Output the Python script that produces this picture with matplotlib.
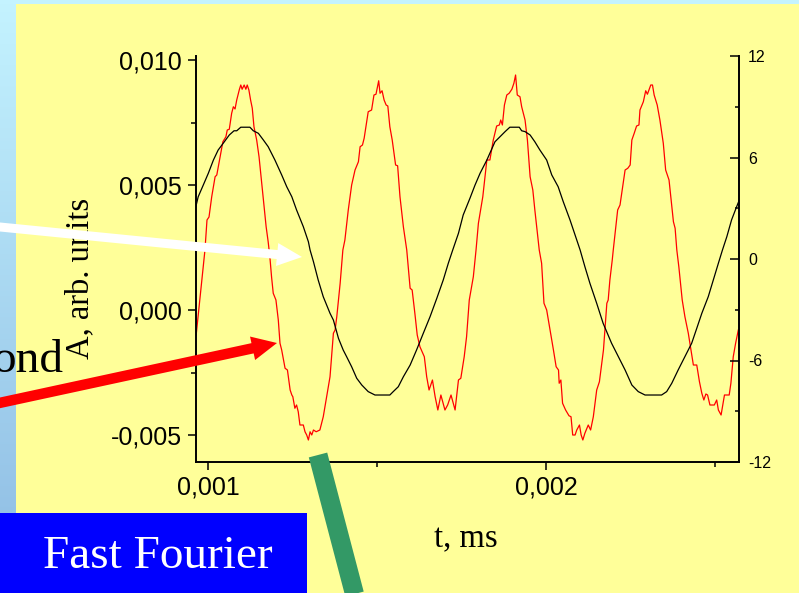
import numpy as np
import matplotlib.pyplot as plt
from matplotlib.ticker import FuncFormatter, MultipleLocator, FixedLocator
from matplotlib.patches import Rectangle, FancyArrow
from matplotlib.colors import LinearSegmentedColormap

plt.rcParams['font.family'] = 'Liberation Sans'
plt.rcParams['axes.unicode_minus'] = False

# red trace: time in microseconds (1 us = 0.001 ms), amplitude in units of 1e-3 (left axis)
red_t = [0.965, 0.991, 0.997, 1.003, 1.011, 1.021, 1.026, 1.036, 1.044, 1.053,
         1.057, 1.063, 1.070, 1.075, 1.080, 1.085, 1.093, 1.097, 1.101, 1.107,
         1.112, 1.116, 1.121, 1.126, 1.131, 1.136, 1.144, 1.151, 1.159, 1.166,
         1.172, 1.178, 1.183, 1.188, 1.193, 1.201, 1.208, 1.213, 1.218, 1.228,
         1.235, 1.243, 1.248, 1.251, 1.257, 1.262, 1.267, 1.272, 1.282, 1.287,
         1.292, 1.297, 1.302, 1.307, 1.312, 1.320, 1.331, 1.341, 1.351, 1.361,
         1.371, 1.376, 1.381, 1.391, 1.399, 1.405, 1.415, 1.425, 1.435, 1.445,
         1.450, 1.457, 1.462, 1.474, 1.484, 1.491, 1.497, 1.505, 1.509, 1.515,
         1.521, 1.527, 1.532, 1.538, 1.545, 1.555, 1.561, 1.568, 1.578, 1.588,
         1.595, 1.598, 1.604, 1.612, 1.619, 1.627, 1.640, 1.647, 1.654, 1.664,
         1.672, 1.680, 1.689, 1.701, 1.709, 1.719, 1.731, 1.741, 1.748, 1.758,
         1.765, 1.773, 1.785, 1.793, 1.800, 1.813, 1.825, 1.834, 1.844, 1.854,
         1.862, 1.866, 1.871, 1.877, 1.884, 1.891, 1.899, 1.905, 1.910, 1.915,
         1.923, 1.928, 1.938, 1.945, 1.953, 1.961, 1.967, 1.980, 1.987, 1.994,
         2.002, 2.012, 2.022, 2.030, 2.037, 2.039, 2.044, 2.049, 2.058, 2.068,
         2.074, 2.079, 2.086, 2.091, 2.099, 2.104, 2.109, 2.115, 2.125, 2.132,
         2.140, 2.150, 2.158, 2.170, 2.180, 2.184, 2.189, 2.196, 2.199, 2.212,
         2.219, 2.224, 2.234, 2.242, 2.249, 2.254, 2.261, 2.268, 2.275, 2.278,
         2.288, 2.295, 2.300, 2.310, 2.315, 2.320, 2.329, 2.337, 2.347, 2.354,
         2.364, 2.377, 2.382, 2.387, 2.393, 2.403, 2.411, 2.421, 2.436, 2.446,
         2.454, 2.461, 2.467, 2.473, 2.478, 2.485, 2.498, 2.505, 2.510, 2.518,
         2.528, 2.542, 2.547, 2.554, 2.561, 2.569]
red_a = [-1.0, 2.4, 3.6, 3.72, 4.53, 5.33, 5.4, 6.13, 6.73, 6.93,
         7.2, 7.23, 7.87, 8.13, 8.04, 8.4, 8.83, 9.0, 8.83, 9.0,
         8.83, 9.0, 8.8, 8.4, 8.07, 7.33, 6.8, 6.13, 5.07, 4.13,
         3.33, 2.73, 2.13, 1.33, 0.67, 0.4, -0.4, -1.33, -1.6, -2.33,
         -2.4, -3.2, -3.4, -3.47, -3.93, -3.8, -4.07, -4.6, -4.6, -4.87,
         -5.0, -5.2, -4.87, -5.0, -4.8, -4.87, -4.8, -4.27, -3.47, -2.67,
         -0.93, -0.8, -0.27, 1.07, 2.4, 2.8, 4.0, 5.0, 5.6, 5.93,
         6.53, 6.6, 6.87, 7.93, 8.0, 8.6, 8.63, 9.17, 8.67, 8.77,
         8.4, 8.2, 8.16, 7.33, 6.8, 5.8, 5.77, 4.53, 3.33, 2.4,
         1.33, 0.87, 0.8, -0.13, -1.0, -1.47, -1.87, -2.67, -3.2, -2.8,
         -3.47, -4.0, -3.4, -4.0, -3.8, -3.4, -4.0, -2.8, -2.73, -1.87,
         -1.07, 0.4, 1.33, 2.4, 3.47, 4.53, 6.0, 6.0, 6.8, 7.36,
         7.4, 7.6, 7.4, 8.2, 8.6, 8.67, 8.83, 9.07, 9.4, 8.6,
         8.53, 8.13, 7.6, 6.8, 5.33, 4.8, 4.0, 2.4, 1.87, 0.27,
         0.0, -0.8, -1.6, -2.27, -2.4, -2.93, -2.8, -3.73, -4.0, -4.23,
         -4.27, -5.0, -5.0, -4.8, -4.6, -5.0, -5.2, -4.93, -4.6, -4.8,
         -4.27, -3.2, -2.87, -1.6, 0.27, 0.4, 1.2, 2.0, 2.4, 4.0,
         4.2, 4.67, 5.6, 5.67, 5.8, 6.8, 7.07, 7.36, 7.4, 8.0,
         8.33, 8.77, 8.63, 9.0, 9.0, 8.6, 8.2, 7.6, 6.67, 5.6,
         5.2, 3.53, 3.27, 2.4, 1.73, 0.4, -0.27, -0.93, -2.2, -2.2,
         -2.87, -3.33, -3.6, -3.36, -3.4, -3.8, -3.8, -3.6, -4.0, -4.2,
         -3.4, -3.4, -2.93, -1.87, -1.33, -0.8]

# black trace: time in microseconds, amplitude on the right axis
black_t = [0.964, 0.971, 0.986, 1.001, 1.016, 1.030, 1.045, 1.063, 1.077, 1.085,
           1.097, 1.124, 1.134, 1.149, 1.164, 1.178, 1.198, 1.218, 1.233, 1.248,
           1.262, 1.282, 1.297, 1.302, 1.312, 1.326, 1.341, 1.361, 1.371, 1.386,
           1.400, 1.410, 1.425, 1.440, 1.455, 1.474, 1.494, 1.538, 1.548, 1.563,
           1.578, 1.598, 1.617, 1.637, 1.657, 1.677, 1.696, 1.711, 1.724, 1.741,
           1.755, 1.775, 1.790, 1.805, 1.825, 1.849, 1.869, 1.879, 1.893, 1.921,
           1.928, 1.938, 1.953, 1.967, 1.982, 2.002, 2.017, 2.036, 2.051, 2.071,
           2.086, 2.101, 2.115, 2.130, 2.150, 2.169, 2.194, 2.214, 2.234, 2.254,
           2.273, 2.293, 2.342, 2.357, 2.372, 2.391, 2.411, 2.431, 2.446, 2.461,
           2.480, 2.495, 2.510, 2.522, 2.535, 2.549, 2.564, 2.572]
black_v = [3.09, 3.68, 4.37, 5.07, 5.85, 6.44, 6.84, 7.33, 7.58, 7.58,
           7.79, 7.79, 7.58, 7.43, 7.03, 6.64, 5.85, 4.97, 4.27, 3.68,
           2.90, 1.91, 1.02, 0.53, -0.16, -1.24, -2.23, -3.21, -3.61, -4.69,
           -5.38, -5.77, -6.37, -7.05, -7.45, -7.84, -8.04, -8.04, -7.84, -7.55,
           -6.96, -6.27, -5.38, -4.39, -3.41, -2.32, -1.24, -0.25, 0.53, 1.52,
           2.60, 3.59, 4.37, 5.07, 5.85, 6.93, 7.33, 7.53, 7.79, 7.79,
           7.58, 7.53, 7.33, 6.93, 6.44, 5.85, 4.97, 4.27, 3.39, 2.31,
           1.42, 0.53, -0.45, -1.44, -2.62, -3.80, -4.98, -5.77, -6.56, -7.45,
           -7.84, -8.04, -8.04, -7.84, -7.35, -6.56, -5.77, -4.98, -4.10, -3.21,
           -2.23, -1.24, -0.25, 0.53, 1.32, 2.31, 3.09, 3.49]

x_ticks = [0.001, 0.002]
x_minor = [0.0015, 0.0025]
left_ticks = [-0.005, 0.0, 0.005, 0.010]
right_ticks = [-12, -6, 0, 6, 12]

YELLOW = '#FFFF99'

fig = plt.figure(figsize=(7.99, 5.93), dpi=100, facecolor=YELLOW)
ax = fig.add_axes([196 / 799, 131 / 593, 543 / 799, 406 / 593])
ax.patch.set_visible(False)

ax.plot(np.array(red_t) / 1000, np.array(red_a) / 1000, color='#FF0000', lw=0.9)
ax.set_xlim(0.0009645, 0.002571)
ax.set_ylim(-0.00608, 0.01016)

ax2 = ax.twinx()
ax2.plot(np.array(black_t) / 1000, black_v, color='black', lw=0.9)
ax2.set_ylim(-12, 12)

for s in ['top', 'right']:
    ax.spines[s].set_visible(False)
for s in ['top', 'left', 'bottom']:
    ax2.spines[s].set_visible(False)
for s in ['left', 'bottom']:
    ax.spines[s].set_linewidth(1.4)
ax2.spines['right'].set_linewidth(1.4)

comma = FuncFormatter(lambda v, p: f"{v:.3f}".replace('.', ','))
ax.set_xticks(x_ticks)
ax.xaxis.set_minor_locator(FixedLocator(x_minor))
ax.set_yticks(left_ticks)
ax.yaxis.set_minor_locator(MultipleLocator(0.0025))
ax.xaxis.set_major_formatter(comma)
ax.yaxis.set_major_formatter(comma)
ax.tick_params(which='major', direction='out', length=6, width=1.1, labelsize=18)
ax.tick_params(which='minor', direction='out', length=3.5, width=1.1)
ax.tick_params(axis='y', pad=4)
ax.tick_params(axis='x', pad=3.5)

ax2.set_yticks(right_ticks)
ax2.yaxis.set_minor_locator(MultipleLocator(3))
ax2.yaxis.set_major_formatter(FuncFormatter(lambda v, p: f"{int(round(v))}"))
ax2.tick_params(which='major', direction='in', length=6.5, width=1.1, labelsize=11.5, pad=6.5)
ax2.tick_params(which='minor', direction='in', length=3, width=1.1)

ax.set_xlabel('t, ms', family='Liberation Serif', fontsize=23.5)
ax.xaxis.set_label_coords(0.497, -0.209)
ax.xaxis.label.set_va('baseline')
ax.set_ylabel('A, arb. units', family='Liberation Serif', fontsize=23.5)
ax.yaxis.set_label_coords(-0.199, 0.451)
ax.yaxis.label.set_va('baseline')

# slide decorations in pixel coordinates
ov = fig.add_axes([0, 0, 1, 1])
ov.set_zorder(5)
ov.axis('off')
cmap = LinearSegmentedColormap.from_list('side', ['#C4F3FF', '#8DBBE3'])
ov.imshow(np.linspace(0, 1, 256).reshape(-1, 1), extent=[0, 16, 593, 0],
          aspect='auto', cmap=cmap)
ov.add_patch(Rectangle((0, 0), 799, 3.5, color='#C4F3FF', lw=0))
ov.add_patch(Rectangle((0, 513), 307, 80, color='#0000FF', lw=0))
ov.text(43, 568, 'Fast Fourier', color='white', fontsize=34,
        family='Liberation Serif', ha='left', va='baseline')
ov.text(63, 372, 'ond', color='black', fontsize=34,
        family='Liberation Serif', ha='right', va='baseline')
ov.plot([318, 360], [455, 615], color='#339966', lw=13.7, solid_capstyle='butt')
ov.add_patch(FancyArrow(-10, 226, 312, 31, width=9, head_width=23, head_length=25,
                        length_includes_head=True, color='white', lw=0))
ov.add_patch(FancyArrow(-10, 405, 287, -62, width=10.5, head_width=24, head_length=25,
                        length_includes_head=True, color='#FF0000', lw=0))
ov.set_xlim(0, 799)
ov.set_ylim(593, 0)

fig.savefig('out.png', dpi=100, facecolor=YELLOW)
